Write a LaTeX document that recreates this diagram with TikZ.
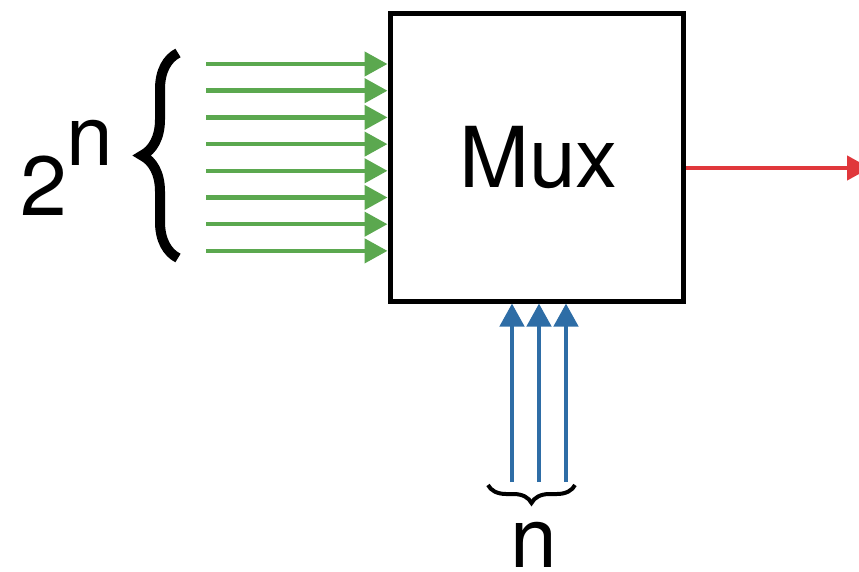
\documentclass[tikz,border=0pt]{standalone}
\usepackage{fontspec}
\setmainfont{TeX Gyre Heros}
\usepackage{tikz}
\usetikzlibrary{positioning,arrows.meta,decorations.pathreplacing}
\definecolor{datagreen}{HTML}{5BA84F}
\definecolor{selblue}{HTML}{2E6DA6}
\definecolor{outred}{HTML}{E0373B}

\begin{document}
\begin{tikzpicture}[
  x=1pt,y=-1pt,
  font=\fontsize{84}{90}\selectfont,
  muxbox/.style={draw,line width=5pt,minimum width=293.5pt,minimum height=287pt,inner sep=0pt},
  wire/.style={line width=4.5pt,-{Triangle[length=23pt,width=24pt]}},
  bigbrace/.style={decorate,decoration={brace,amplitude=#1}},
]
\useasboundingbox (0,0) rectangle (859,572);
\node[muxbox] (mux) at (536.75,157.5) {};
\node[anchor=base] (muxlabel) at (538.5,188) {Mux};
% data inputs
\foreach \i in {0,...,7} {
  \coordinate (in\i) at (206,{64+26.7*\i});
  \draw[wire,datagreen] (in\i) -- (in\i -| mux.west);
}
\coordinate (bracelo) at (178,258);
\coordinate (bracehi) at (178,53);
\draw[bigbrace=36pt,line width=10pt] (bracelo) -- (bracehi);
\node[anchor=base west,inner sep=0pt] (count) at (20,215) {2\raisebox{50pt}{n}};
% select lines
\foreach \j in {0,1,2} {
  \coordinate (sel\j) at ({512+27*\j},482);
  \draw[wire,selblue] (sel\j) -- (sel\j |- mux.south);
}
\coordinate (selr) at (575,485);
\coordinate (sell) at (488,485);
\draw[bigbrace=18pt,line width=4pt] (selr) -- (sell);
\node[anchor=base,inner sep=0pt] (selcount) at (533.5,567) {n};
% output
\coordinate (out) at (870,168);
\draw[wire,outred] (mux.east |- out) -- (out);
\end{tikzpicture}
\end{document}
